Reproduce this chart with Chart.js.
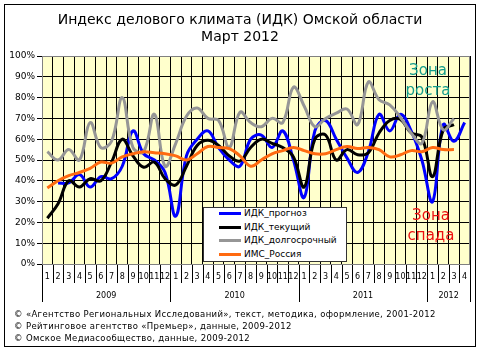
<!DOCTYPE html>
<html>
<head>
<meta charset="utf-8">
<script src="https://cdn.jsdelivr.net/npm/chart.js@4"></script>
<style>
  body { margin: 0; background: #fff; }
  #wrap { position: relative; width: 480px; height: 349px; font-family: "DejaVu Sans", Verdana, sans-serif; color: #000; }
  #frame { position: absolute; left: 4px; top: 4px; width: 470px; height: 341px; border: 1px solid #000; }
  #chart { position: absolute; left: 0; top: 0; }
  .title { position: absolute; left: 0; width: 480px; text-align: center; font-size: 14px; white-space: nowrap; }
  .zone { position: absolute; font-size: 15px; text-align: center; line-height: 20px; width: 60px; }
  #legend { position: absolute; left: 203px; top: 207px; width: 142px; height: 53px; background: #fff; border: 1px solid #333; }
  #legend .row { position: absolute; left: 15px; height: 13px; line-height: 13px; font-size: 9px; white-space: nowrap; }
  #legend .swatch { display: inline-block; width: 22px; height: 3px; vertical-align: middle; margin-right: 3px; }
  .foot { position: absolute; left: 14px; font-size: 8.5px; letter-spacing: 0.35px; white-space: nowrap; }
</style>
</head>
<body>
<div id="wrap">
  <div id="frame"></div>
  <canvas id="chart" width="480" height="349"></canvas>
  <div class="title" style="top:11px">Индекс делового климата (ИДК) Омской области</div>
  <div class="title" style="top:28px">Март 2012</div>
  <div class="zone" style="left:398px; top:60px; color:#149c8c">Зона<br>роста</div>
  <div class="zone" style="left:401px; top:205px; color:#ee1111">Зона<br>спада</div>
  <div id="legend"></div>
  <div class="foot" style="top:309px">© «Агентство Региональных Исследований», текст, методика, оформление, 2001-2012</div>
  <div class="foot" style="top:321px">© Рейтинговое агентство «Премьер», данные, 2009-2012</div>
  <div class="foot" style="top:333px">© Омское Медиасообщество, данные, 2009-2012</div>
</div>
<script>
// Месяцы по оси X: январь 2009 - апрель 2012
const monthLabels = [
  '1','2','3','4','5','6','7','8','9','10','11','12',
  '1','2','3','4','5','6','7','8','9','10','11','12',
  '1','2','3','4','5','6','7','8','9','10','11','12',
  '1','2','3','4'
];
const years = ['2009', '2010', '2011', '2012'];
const yearLengths = [12, 12, 12, 4];

// Значения индексов, %
const idkForecast = [
  null, 39, 39, 43, 37, 42, 41, 47, 64, 53, 50, 44,
  23, 52, 60, 64, 56, 50, 47, 60, 62, 56, 64, 50,
  32, 64, 69, 60, 51, 44, 54, 72, 64, 72, 64, 50,
  30, 67, 59, 68
];
const idkCurrent = [
  22, 29, 40, 37, 41, 40, 49, 60, 52, 46.5, 49, 41,
  38, 47, 57, 59.5, 57, 52, 49.5, 56, 60, 58, 56, 51.5,
  37, 60, 62, 50, 55, 52.5, 53.5, 63, 69, 69.5, 63, 61,
  42, 64.5, 67, null
];
const idkLongTerm = [
  54, 50, 55, 50, 68, 56, 59, 80, 56, 54, 72, 47,
  58, 71, 75, 70, 69, 56, 73, 68, 66, 70, 68, 85,
  76, 66, 70, 72.5, 74.5, 67, 87.5, 79, 76.5, 70.5, 63, 58,
  78, 64.5, 70, null
];
const imsRussia = [
  36.5, 40, 42.5, 44, 46, 49, 48.5, 51.5, 53, 54, 53.5, 53,
  52, 50, 53, 56.5, 56, 55.5, 52, 47, 50, 53, 54.5, 56,
  54.5, 53, 53, 55, 56.5, 55.5, 56, 55, 51.5, 52.5, 54.5, 54,
  56, 55, 55, null
];

const seriesNames = ['ИДК_прогноз', 'ИДК_текущий', 'ИДК_долгосрочный', 'ИМС_Россия'];
const seriesColors = ['#0000ff', '#000000', '#969696', '#ff6a10'];
const seriesData = [idkForecast, idkCurrent, idkLongTerm, imsRussia];

// Жёлтый фон области построения
const plotBackground = {
  id: 'plotBackground',
  beforeDraw(chart) {
    const { ctx, chartArea: a } = chart;
    ctx.save();
    ctx.fillStyle = '#ffffcc';
    ctx.fillRect(a.left, a.top, a.right - a.left, a.bottom - a.top);
    ctx.restore();
  }
};

// Разделители месяцев и подписи годов под осью X
const yearAxis = {
  id: 'yearAxis',
  afterDraw(chart) {
    const { ctx, chartArea: a } = chart;
    const x = chart.scales.x;
    const step = x.getPixelForValue(1) - x.getPixelForValue(0);
    const edge = k => x.getPixelForValue(k) - step / 2;
    const vline = (k, len) => {
      const px = Math.round(edge(k)) + 0.5;
      ctx.beginPath();
      ctx.moveTo(px, a.bottom);
      ctx.lineTo(px, a.bottom + len);
      ctx.stroke();
    };
    ctx.save();
    ctx.strokeStyle = '#000';
    ctx.lineWidth = 1;
    for (let k = 0; k <= monthLabels.length; k++) vline(k, 19);
    ctx.font = '8px "DejaVu Sans"';
    ctx.fillStyle = '#000';
    ctx.textAlign = 'center';
    ctx.textBaseline = 'middle';
    let start = 0;
    years.forEach((y, i) => {
      const end = start + yearLengths[i];
      vline(start, 38);
      ctx.fillText(y, (edge(start) + edge(end)) / 2, a.bottom + 32);
      start = end;
    });
    vline(start, 38);
    // рамка области построения
    ctx.strokeStyle = '#808080';
    ctx.strokeRect(a.left + 0.5, a.top + 0.5, a.right - a.left - 1, a.bottom - a.top);
    ctx.restore();
  }
};

new Chart(document.getElementById('chart'), {
  type: 'line',
  data: {
    labels: monthLabels,
    datasets: seriesData.map((d, i) => ({
      label: seriesNames[i],
      data: d,
      borderColor: seriesColors[i],
      backgroundColor: seriesColors[i],
      borderWidth: 3,
      pointRadius: 0,
      tension: 0.4,
      fill: false,
      order: 4 - i
    }))
  },
  options: {
    responsive: false,
    animation: false,
    devicePixelRatio: 1,
    layout: { padding: { left: 4, right: 10, top: 56, bottom: 0 } },
    plugins: {
      legend: { display: false },
      tooltip: { enabled: false }
    },
    scales: {
      x: {
        offset: true,
        afterFit(scale) { scale.height = 85; },
        grid: { color: '#000', lineWidth: 1, offset: true, drawTicks: false },
        border: { color: '#000' },
        ticks: {
          color: '#000',
          font: { family: 'DejaVu Sans', size: 8 },
          padding: 8,
          autoSkip: false,
          maxRotation: 0
        }
      },
      y: {
        min: 0,
        max: 100,
        afterFit(scale) { scale.width = 38; },
        grid: { color: '#000', lineWidth: 1, tickLength: 5 },
        border: { color: '#808080' },
        ticks: {
          stepSize: 10,
          color: '#000',
          padding: 2,
          font: { family: 'DejaVu Sans', size: 9 },
          callback: v => v + '%'
        }
      }
    }
  },
  plugins: [plotBackground, yearAxis]
});

// Легенда внутри области построения
const legend = document.getElementById('legend');
seriesNames.forEach((name, i) => {
  const row = document.createElement('div');
  row.className = 'row';
  row.style.top = (-1 + i * 13.7) + 'px';
  row.innerHTML = '<span class="swatch" style="background:' + seriesColors[i] + '"></span>' + name;
  legend.appendChild(row);
});
</script>
</body>
</html>
